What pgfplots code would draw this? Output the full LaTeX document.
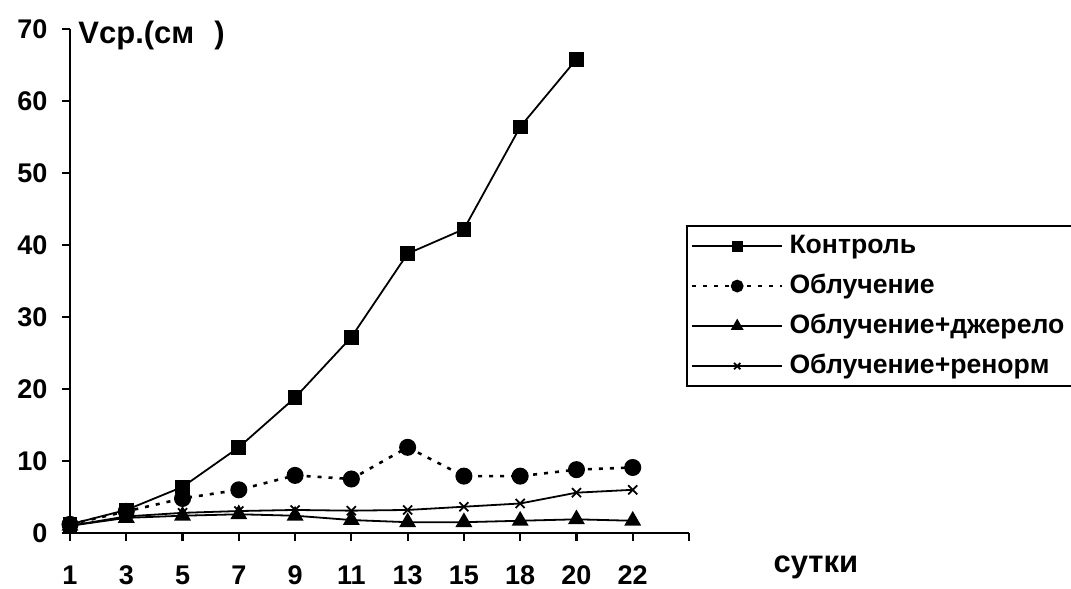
\documentclass[border=0pt]{standalone}
\usepackage{fontspec}
\setmainfont{Liberation Sans}
\usepackage{pgfplots}
\pgfplotsset{compat=1.18}
\begin{document}
\begin{tikzpicture}
\begin{axis}[
    at={(0pt,0pt)}, anchor=south west,
    scale only axis,
    width=309.5pt, height=252pt,
    xmin=0, xmax=11, ymin=0, ymax=70,
    axis x line*=bottom, axis y line*=left,
    axis line style={line width=1.3pt},
    tick style={line width=1.1pt, black},
    tick align=outside,
    major tick length=4pt,
    xtick={0,...,11},
    xticklabels={1,3,5,7,9,11,13,15,18,20,22,{}},
    ytick={0,10,...,70},
    /pgf/number format/assume math mode=true,
    ticklabel style={font=\fontsize{13.5}{15}\selectfont\bfseries},
    xticklabel style={yshift=-9pt},
    yticklabel style={xshift=-3.8pt},
    clip=false,
    legend style={at={(0.995,0.611)}, anchor=north west,
        draw=black, line width=1pt,
        font=\fontsize{13.3}{15}\selectfont\bfseries,
        row sep=0pt, inner xsep=2pt, inner ysep=0pt,
        nodes={text height=10pt, text depth=3pt, inner ysep=3.5pt, inner xsep=3pt},
        cells={anchor=west}},
    legend image code/.code={\draw[mark repeat=2,mark phase=2,
        mark options={solid,fill=black,scale=0.7}]
        plot coordinates {(0pt,0pt) (22.5pt,0pt) (45pt,0pt)};},
    every axis plot/.append style={black, line width=0.9pt},
]
% Контроль
\addplot[mark=square*, mark size=3.25pt, mark options={solid,fill=black}] coordinates {
    (0,1.2) (1,3.2) (2,6.4) (3,11.9) (4,18.8) (5,27.2)
    (6,38.8) (7,42.2) (8,56.4) (9,65.8)
};
% Облучение
\addplot[mark=*, mark size=3.6pt, dash pattern=on 2pt off 3.5pt, line width=1.3pt,
    mark options={solid,fill=black}] coordinates {
    (0,1.2) (1,3.0) (2,4.8) (3,6.0) (4,8.0) (5,7.5)
    (6,11.9) (7,7.9) (8,7.9) (9,8.8) (10,9.1)
};
% Облучение+джерело
\addplot[mark=triangle*, mark size=4pt, mark options={solid,fill=black}] coordinates {
    (0,1.0) (1,2.1) (2,2.4) (3,2.6) (4,2.4) (5,1.8)
    (6,1.5) (7,1.5) (8,1.7) (9,1.9) (10,1.7)
};
% Облучение+реноpм
\addplot[mark=x, mark size=3.2pt, mark options={solid,line width=0.9pt}] coordinates {
    (0,1.0) (1,2.3) (2,2.8) (3,3.05) (4,3.2) (5,3.1)
    (6,3.2) (7,3.65) (8,4.1) (9,5.6) (10,6.0)
};
\legend{Контроль,Облучение,Облучение+джерело,Облучение+реноpм}
\node[anchor=base west, inner sep=0pt, font=\fontsize{15.5}{18}\selectfont\bfseries]
    at (rel axis cs:0.013,0.972) {Vср.(см\hspace{10pt})};
\node[anchor=base, font=\fontsize{15.5}{17}\selectfont\bfseries]
    at (rel axis cs:1.205,-0.079) {сутки};
\end{axis}
\pgfresetboundingbox
\path[use as bounding box] (-35pt,-28pt) rectangle (500.5pt,266.5pt);
\end{tikzpicture}
\end{document}
